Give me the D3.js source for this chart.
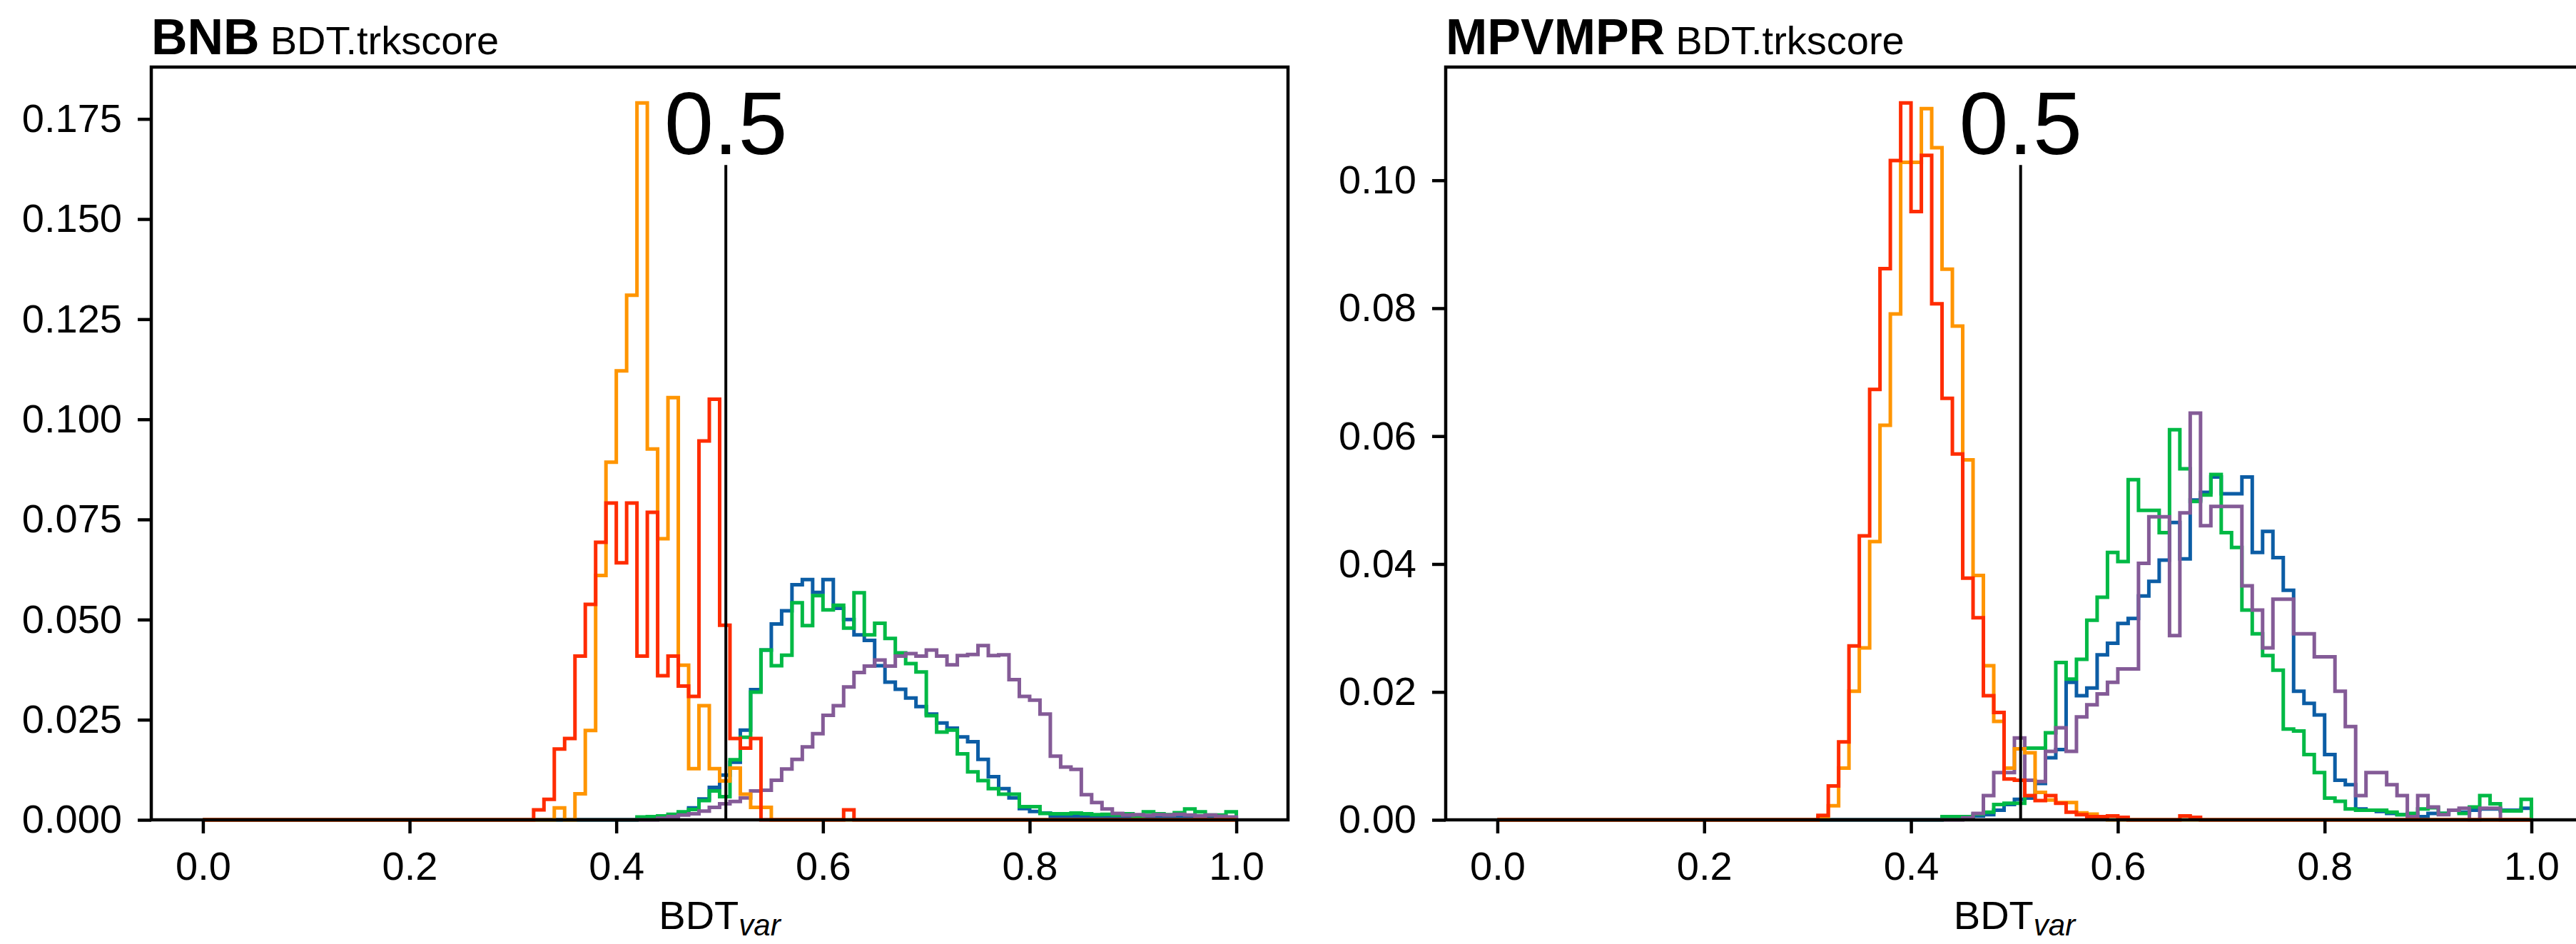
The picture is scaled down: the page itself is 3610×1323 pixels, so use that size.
<!DOCTYPE html>
<html><head><meta charset="utf-8">
<script src="https://cdn.jsdelivr.net/npm/d3@7"></script>
<style>
body{margin:0;background:#fff}
svg{display:block;background:#fff}
text{font-family:"Liberation Sans", Arial, Helvetica, sans-serif;fill:#000}
</style>
</head><body>
<svg id="chart" width="3610" height="1323"></svg>
<script>
// ---------- data ----------
const BIN_WIDTH = 0.01;      // histogram bin width
const HIST_LO = 0.0, HIST_HI = 1.0;
const FIRST_LISTED_BIN = 0.30; // arrays below start at this bin; earlier bins are empty

const xTicks = [0.0, 0.2, 0.4, 0.6, 0.8, 1.0];
const bnbYTicks = [0, 0.025, 0.05, 0.075, 0.1, 0.125, 0.15, 0.175];
const mpvYTicks = [0, 0.02, 0.04, 0.06, 0.08, 0.10];
const cutValue = 0.506;
const cutLabel = "0.5";
const panelTitles = [["BNB", "BDT.trkscore"], ["MPVMPR", "BDT.trkscore"]];

// BNB panel, bins 0.30 ... 0.99
const bnbBlue = [0,0,0,0,0,0,0,0,0,0,0,0,
  0.0002,0.0004,0.0006,0.0010,0.0016,0.0030,0.0052,0.0081,
  0.0112,0.0144,0.0224,0.0325,0.0424,0.0489,0.0522,0.0587,0.0600,0.0568,
  0.0600,0.0528,0.0500,0.0462,0.0448,0.0385,0.0344,0.0326,0.0304,0.0283,
  0.0264,0.0242,0.0229,0.0207,0.0195,0.0151,0.0108,0.0078,0.0055,0.0028,
  0.0021,0.0017,0.0008,0.0008,0.0008,0.0008,0.0007,0.0006,0.0006,0.0007,
  0.0008,0.0006,0.0007,0.0006,0.0008,0.0006,0.0007,0.0008,0.0006,0.0005];
const bnbGreen = [0,0,0,0,0,0,0,0,0,0,0,0,
  0.0007,0.0008,0.0010,0.0014,0.0020,0.0026,0.0048,0.0072,
  0.0058,0.0150,0.0206,0.0319,0.0424,0.0385,0.0411,0.0542,0.0485,0.0560,
  0.0524,0.0536,0.0479,0.0567,0.0462,0.0491,0.0453,0.0417,0.0390,0.0369,
  0.0260,0.0219,0.0224,0.0165,0.0120,0.0098,0.0078,0.0064,0.0064,0.0033,
  0.0033,0.0016,0.0015,0.0015,0.0017,0.0015,0.0013,0.0014,0.0012,0.0015,
  0.0010,0.0020,0.0015,0.0013,0.0018,0.0027,0.0020,0.0012,0.0012,0.0020];
const bnbPurple = [0,0,0,0,0,0,0,0,0,0,0,0,0,0,
  0.0004,0.0008,0.0012,0.0015,0.0022,0.0031,
  0.0040,0.0046,0.0055,0.0072,0.0074,0.0099,0.0127,0.0151,0.0182,0.0215,
  0.0261,0.0285,0.0332,0.0368,0.0384,0.0399,0.0384,0.0409,0.0415,0.0409,
  0.0424,0.0409,0.0387,0.0410,0.0413,0.0435,0.0410,0.0412,0.0350,0.0308,
  0.0299,0.0264,0.0159,0.0132,0.0126,0.0063,0.0043,0.0027,0.0016,0.0012,
  0.0013,0.0011,0.0013,0.0012,0.0014,0.0012,0.0010,0.0012,0.0009,0.0007];
const bnbOrange = [0,0,0,0,
  0.0030,0,0.0065,0.0223,0.0610,0.0893,
  0.1121,0.1310,0.1790,0.0926,0.0702,0.1054,0.0386,0.0128,0.0285,0.0128,
  0.0097,0.0129,0.0064,0.0031,0.0031,0,0,0,0,0,
  0,0,0,0,0,0,0,0,0,0, 0,0,0,0,0,0,0,0,0,0,
  0,0,0,0,0,0,0,0,0,0, 0,0,0,0,0,0,0,0,0,0];
const bnbRed = [0,0,
  0.0025,0.0051,0.0177,0.0203,0.0409,0.0538,0.0693,0.0791,
  0.0642,0.0791,0.0409,0.0768,0.0360,0.0409,0.0334,0.0308,0.0946,0.1050,
  0.0486,0.0203,0.0179,0.0203,0,0,0,0,0,0,
  0,0,0.0025,0,0,0,0,0,0,0,
  0,0,0,0,0,0,0,0,0,0, 0,0,0,0,0,0,0,0,0,0, 0,0,0,0,0,0,0,0,0,0];

// MPVMPR panel, bins 0.30 ... 0.99
const mpvBlue = [0,0,0,0,0,0,0,0,0,0,0,0,0,
  0.0002,0.0003,0.0004,0.0006,0.0008,0.0015,0.0024,
  0.0032,0.0034,0.0057,0.0097,0.0110,0.0215,0.0194,0.0206,0.0258,0.0276,
  0.0307,0.0315,0.0350,0.0373,0.0406,0.0465,0.0408,0.0500,0.0512,0.0536,
  0.0510,0.0510,0.0536,0.0418,0.0451,0.0410,0.0359,0.0201,0.0182,0.0164,
  0.0102,0.0062,0.0055,0.0017,0.0015,0.0013,0.0010,0.0008,0.0008,0.0005,
  0.0010,0.0010,0.0015,0.0012,0.0015,0.0017,0.0017,0.0015,0.0015,0.0018];
const mpvGreen = [0,0,0,0,0,0,0,0,0,0,0,0,0,
  0.0005,0.0005,0.0005,0.0009,0.0012,0.0024,0.0026,
  0.0026,0.0112,0.0112,0.0136,0.0246,0.0220,0.0251,0.0312,0.0348,0.0418,
  0.0404,0.0532,0.0484,0.0484,0.0449,0.0610,0.0549,0.0498,0.0508,0.0540,
  0.0449,0.0426,0.0328,0.0291,0.0257,0.0234,0.0142,0.0139,0.0102,0.0074,
  0.0034,0.0029,0.0017,0.0015,0.0015,0.0015,0.0012,0.0008,0.0010,0.0017,
  0.0019,0.0010,0.0015,0.0010,0.0020,0.0038,0.0025,0.0014,0.0014,0.0032];
const mpvPurple = [0,0,0,0,0,0,0,0,0,0,0,0,0,0,0,
  0.0003,0.0010,0.0038,0.0074,0.0074,
  0.0128,0.0062,0.0060,0.0107,0.0144,0.0107,0.0161,0.0180,0.0197,0.0215,
  0.0236,0.0236,0.0401,0.0474,0.0474,0.0288,0.0480,0.0636,0.0460,0.0490,
  0.0490,0.0490,0.0366,0.0328,0.0269,0.0345,0.0345,0.0291,0.0291,0.0255,
  0.0255,0.0201,0.0146,0.0038,0.0074,0.0074,0.0055,0.0038,0.0005,0.0038,
  0.0020,0.0008,0.0015,0.0018,0,0.0018,0.0018,0,0,0];
const mpvOrange = [0,0.0004,0.0022,0.0081,0.0201,0.0269,0.0435,0.0617,0.0791,0.1028,
  0.1028,0.1112,0.1051,0.0861,0.0772,0.0563,0.0382,0.0241,0.0154,0.0081,
  0.0111,0.0105,0.0043,0.0031,0.0027,0.0027,0.0011,0.0009,0.0005,0,
  0,0,0,0,0,0,0,0,0,0, 0,0,0,0,0,0,0,0,0,0,
  0,0,0,0,0,0,0,0,0,0, 0,0,0,0,0,0,0,0,0,0];
const mpvRed = [0,0.0007,0.0053,0.0122,0.0272,0.0444,0.0673,0.0862,0.1031,0.1121,
  0.0951,0.1039,0.0807,0.0659,0.0572,0.0378,0.0316,0.0194,0.0168,0.0064,
  0.0062,0.0038,0.0030,0.0038,0.0026,0.0012,0.0008,0.0005,0.0005,0.0006,
  0.0004,0,0,0,0,0,0.0006,0.0004,0,0,
  0,0,0,0,0,0,0,0,0,0, 0,0,0,0,0,0,0,0,0,0, 0,0,0,0,0,0,0,0,0,0];

const colors = {blue:"#0C5DA5", green:"#00B945", purple:"#845B97", orange:"#FF9500", red:"#FF2C00"};

// ---------- drawing ----------
const svg = d3.select("#chart");
svg.append("rect").attr("width",3610).attr("height",1323).attr("fill","#fff");

const FONT = '"Liberation Sans", Arial, Helvetica, sans-serif';

function fullBins(vals){
  const lead = Math.round((FIRST_LISTED_BIN - HIST_LO)/BIN_WIDTH);
  return new Array(lead).fill(0).concat(vals);
}

function drawPanel(p){
  const g = svg.append("g");
  const x = d3.scaleLinear().domain([-0.05, 1.05]).range([p.left, p.left + p.width]);
  const ymax = d3.max(p.series, s => d3.max(s.values)) * 1.05;
  const y = d3.scaleLinear().domain([0, ymax]).range([p.top + p.height, p.top]);

  const line = d3.line().x(d => x(d[0])).y(d => y(d[1]));
  p.series.forEach(s => {
    const vals = fullBins(s.values);
    const pts = [[HIST_LO, 0]];
    vals.forEach((v, i) => {
      const e0 = HIST_LO + i*BIN_WIDTH, e1 = HIST_LO + (i+1)*BIN_WIDTH;
      pts.push([e0, v]); pts.push([e1, v]);
    });
    pts.push([HIST_HI, 0]);
    g.append("path").attr("d", line(pts)).attr("fill","none")
      .attr("stroke", s.color).attr("stroke-width", 5)
      .attr("stroke-linejoin","miter").attr("stroke-linecap","butt");
  });

  // cut line and label
  const lineTop = p.top + p.height * (1 - 0.87);
  g.append("line").attr("x1", x(cutValue)).attr("x2", x(cutValue))
    .attr("y1", y(0)).attr("y2", lineTop).attr("stroke","#000").attr("stroke-width",4);
  g.append("text").attr("x", x(cutValue)).attr("y", lineTop - 15)
    .attr("text-anchor","middle").attr("font-size",124).attr("font-family",FONT).text(cutLabel);

  // axes
  const xa = g.append("g").attr("transform",`translate(0,${p.top+p.height})`)
    .call(d3.axisBottom(x).tickValues(xTicks).tickFormat(d3.format(".1f")).tickSize(19).tickPadding(25));
  const ya = g.append("g").attr("transform",`translate(${p.left},0)`)
    .call(d3.axisLeft(y).tickValues(p.yTicks).tickFormat(d3.format(p.yFmt)).tickSize(19).tickPadding(22));
  [xa, ya].forEach(a => {
    a.select(".domain").remove();
    a.selectAll(".tick line").attr("stroke","#000").attr("stroke-width",4.5);
    a.selectAll(".tick text").attr("font-size",56).attr("font-family",FONT).attr("fill","#000");
  });

  // spines
  g.append("rect").attr("x",p.left).attr("y",p.top).attr("width",p.width).attr("height",p.height)
    .attr("fill","none").attr("stroke","#000").attr("stroke-width",4.5);

  // title
  const t = g.append("text").attr("x", p.left).attr("y", 76).attr("font-family",FONT);
  t.append("tspan").attr("font-weight","bold").attr("font-size",70).text(p.title[0]);
  t.append("tspan").attr("dx",15).attr("font-size",56).text(p.title[1]);

  // x label
  const xl = g.append("text").attr("x", p.left + p.width/2).attr("y", 1302)
    .attr("text-anchor","middle").attr("font-family",FONT).attr("font-size",56);
  xl.append("tspan").text("BDT");
  xl.append("tspan").attr("font-style","italic").attr("font-size",42).attr("dy",9).text("var");
}

drawPanel({left:212, top:94, width:1593, height:1055, yTicks:bnbYTicks, yFmt:".3f", title:panelTitles[0],
  series:[{values:bnbBlue,color:colors.blue},{values:bnbGreen,color:colors.green},{values:bnbPurple,color:colors.purple},
          {values:bnbOrange,color:colors.orange},{values:bnbRed,color:colors.red}]});
drawPanel({left:2026, top:94, width:1594, height:1055, yTicks:mpvYTicks, yFmt:".2f", title:panelTitles[1],
  series:[{values:mpvBlue,color:colors.blue},{values:mpvGreen,color:colors.green},{values:mpvPurple,color:colors.purple},
          {values:mpvOrange,color:colors.orange},{values:mpvRed,color:colors.red}]});
</script>
</body></html>
